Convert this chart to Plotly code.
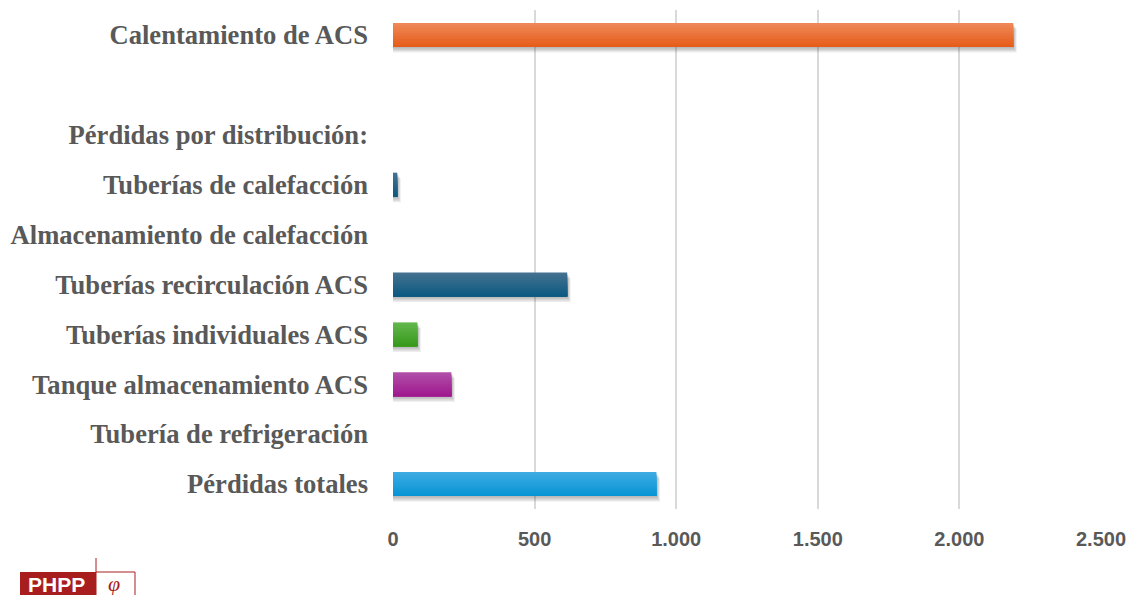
import plotly.graph_objects as go

# Energy demand for domestic hot water and distribution losses (kWh/a)
categories = [
    "Calentamiento de ACS",
    " ",
    "Pérdidas por distribución:",
    "Tuberías de calefacción",
    "Almacenamiento de calefacción",
    "Tuberías recirculación ACS",
    "Tuberías individuales ACS",
    "Tanque almacenamiento ACS",
    "Tubería de refrigeración",
    "Pérdidas totales",
]
values = [2190, None, None, 15, 0, 615, 86, 206, 0, 930]

# top / bottom colour of each bar's vertical gradient
top_colors = ["#ef8758", None, None, "#44718f", "#44718f", "#44718f", "#62b64c", "#b04fa8", "#44718f", "#3dabe1"]
bottom_colors = ["#e65d1b", None, None, "#0d5a82", "#0d5a82", "#0d5a82", "#389a1d", "#a01a8f", "#0d5a82", "#0795d5"]

x_ticks = [0, 500, 1000, 1500, 2000, 2500]

W, H = 1138, 595
L, R, T, B = 393, 37, 10, 86
PW, PH = W - L - R, H - T - B
BAR_W = 0.48
N_STRIPS = 12


def hex_rgb(h):
    h = h.lstrip("#")
    return tuple(int(h[i:i + 2], 16) for i in (0, 2, 4))


def mix(c1, c2, t):
    a, b = hex_rgb(c1), hex_rgb(c2)
    return "rgb({},{},{})".format(*[round(a[i] + (b[i] - a[i]) * t) for i in range(3)])


def px_x(px):
    return (px - L) / PW


def px_y(py):
    return (H - B - py) / PH


fig = go.Figure()

# soft drop shadow under each bar
for i in range(1, 5):
    fig.add_trace(go.Bar(
        x=[(v + 3 * i) if v else None for v in values],
        y=categories, orientation="h",
        width=BAR_W, offset=-BAR_W / 2 + 0.028 * i,
        marker=dict(color="rgba(60,60,60,0.10)", line=dict(width=0)),
        hoverinfo="skip", showlegend=False,
    ))

# bars: layered bands, each reaching the bar bottom, for a top-to-bottom gradient
sw = BAR_W / N_STRIPS
for k in range(N_STRIPS):
    t = k / (N_STRIPS - 1)
    cols = [mix(a, b, t) if a else "rgba(0,0,0,0)" for a, b in zip(top_colors, bottom_colors)]
    fig.add_trace(go.Bar(
        x=values, y=categories, orientation="h",
        width=BAR_W - k * sw, offset=-BAR_W / 2 + k * sw,
        marker=dict(color=cols, line=dict(width=0)),
        hoverinfo="x+y" if k == 0 else "skip", showlegend=False,
    ))

# PHPP logo
logo_red = "#a81e1e"
fig.add_shape(type="rect", xref="paper", yref="paper",
              x0=px_x(20), x1=px_x(96), y0=px_y(596), y1=px_y(572),
              fillcolor=logo_red, line=dict(width=0))
fig.add_shape(type="rect", xref="paper", yref="paper",
              x0=px_x(96), x1=px_x(135), y0=px_y(596), y1=px_y(572),
              fillcolor="white", line=dict(color=logo_red, width=1))
fig.add_shape(type="line", xref="paper", yref="paper",
              x0=px_x(96), x1=px_x(96), y0=px_y(572), y1=px_y(558),
              line=dict(color=logo_red, width=1))
fig.add_annotation(xref="paper", yref="paper", x=px_x(56), y=px_y(584),
                   xanchor="center", yanchor="middle",
                   text="PHPP", showarrow=False,
                   font=dict(family="Liberation Sans", size=21, color="white", weight="bold"))
fig.add_annotation(xref="paper", yref="paper", x=px_x(114), y=px_y(583),
                   xanchor="center", yanchor="middle",
                   text="φ", showarrow=False,
                   font=dict(family="Liberation Serif", size=22, color=logo_red, style="italic"))

fig.update_layout(
    width=W, height=H,
    margin=dict(l=L, r=R, t=T, b=B),
    paper_bgcolor="white", plot_bgcolor="white",
    barmode="overlay",
    separators=",.",
    showlegend=False,
    xaxis=dict(
        range=[0, 2500], tickvals=x_ticks, tickformat=",d",
        showgrid=True, gridcolor="#d9d9d9", gridwidth=2,
        zeroline=False, showline=False, ticks="",
        tickfont=dict(family="Liberation Sans", size=20, color="#595959", weight="bold"),
        ticklabelstandoff=16,
    ),
    yaxis=dict(
        categoryorder="array", categoryarray=categories,
        autorange="reversed", showgrid=False, zeroline=False,
        showline=False, ticks="",
        tickfont=dict(family="Liberation Serif", size=26.6, color="#595959", weight="bold"),
        ticklabelstandoff=24,
    ),
)

fig.write_html("out.html")
